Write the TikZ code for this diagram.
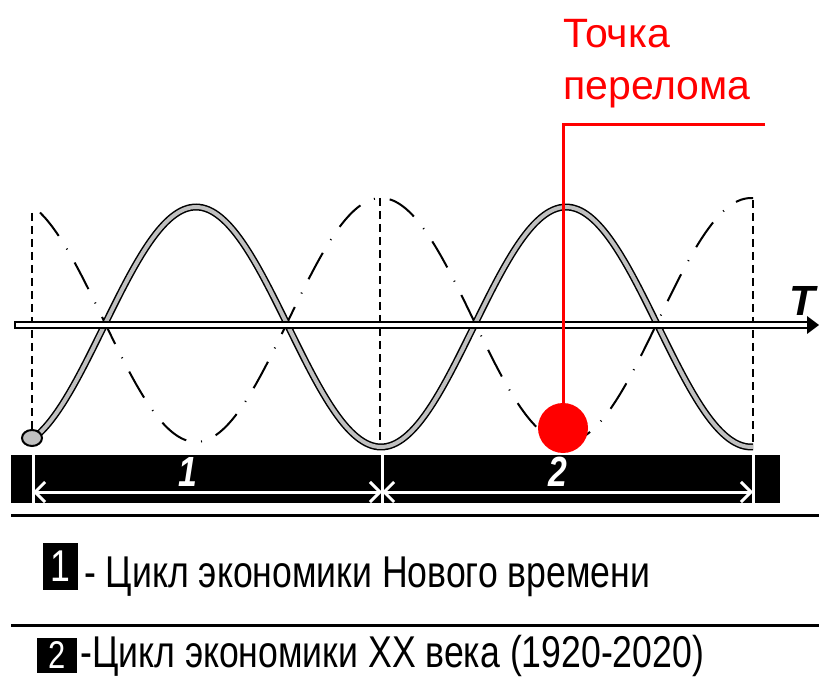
\documentclass[tikz,border=0pt]{standalone}
\usepackage{fontspec}
\setmainfont{Liberation Sans}
\newfontfamily\narrowfont[FakeStretch=0.8]{Liberation Sans}
\usetikzlibrary{positioning, arrows.meta}
\definecolor{wavegray}{RGB}{192,192,192}

\begin{document}
\begin{tikzpicture}[
        x=0.3mm, y=-0.3mm,
        wave/.style={line width=2.1mm, black},
        wavefill/.style={line width=1.2mm, wavegray},
        ghost/.style={line width=0.6mm, dash pattern=on 9mm off 4.5mm on 0.3mm off 4.5mm},
        guide/.style={line width=0.6mm, dash pattern=on 2.4mm off 1.5mm},
        span/.style={white, line width=0.9mm, {Straight Barb[length=3mm, width=6mm, line width=0.9mm]}-{Straight Barb[length=3mm, width=6mm, line width=0.9mm]}},
        barnum/.style={text=white, inner sep=0pt, font=\narrowfont\bfseries\itshape\fontsize{36}{36}\selectfont},
        redlabel/.style={text=red, inner sep=0pt, anchor=base west, font=\fontsize{35}{35}\selectfont},
        keybox/.style={fill=black, text=white, inner sep=0pt, font=\narrowfont\fontsize{38}{38}\selectfont},
        legend/.style={inner sep=0pt, anchor=base west, font=\narrowfont\fontsize{38}{38}\selectfont}
    ]
        \useasboundingbox (0,0) rectangle (819,679);

        % Guides and second wave
        \draw[guide] (32,213) -- (32,430);
        \draw[guide] (380,198) -- (380,447);
        \draw[guide] (753,200) -- (753,447);
        \draw[ghost] plot[domain=40:753, samples=120, smooth] (\x, {320-122*cos(0.97297*(\x-381))});

        % Main wave
        \draw[wave] plot[domain=33:753, samples=120, smooth] (\x, {327+120*cos(0.97297*(\x-381))});
        \draw[wavefill] plot[domain=33:753, samples=120, smooth] (\x, {327+120*cos(0.97297*(\x-381))});
        \draw[line width=0.6mm, fill=wavegray] (32,438) ellipse [x radius=10, y radius=8];

        % Time axis
        \draw[line width=0.6mm, fill=white] (15,322) rectangle (810,328);
        \fill (807,316) -- (819,325) -- (807,334) -- cycle;
        \node[inner sep=0pt, font=\bfseries\itshape\fontsize{36}{36}\selectfont] (tlabel) at (802,301) {T};

        % Period bar
        \fill (11,455) rectangle (780,503);
        \foreach \x in {33,382,753}
            \draw[white, line width=0.9mm] (\x,455) -- (\x,503);
        \coordinate (m0) at (33,492);
        \coordinate (m1) at (382,492);
        \coordinate (m2) at (753,492);
        \draw[span] (m0) -- (m1);
        \draw[span] (m1) -- (m2);
        \node[barnum] (n1) at (188,472) {1};
        \node[barnum] (n2) at (558,472) {2};

        % Turning point
        \node[circle, fill=red, minimum size=15mm, inner sep=0pt] (ball) at (563,428) {};
        \node[redlabel] (turn) at (563,48) {Точка};
        \node[redlabel] (turnb) at (563,100) {перелома};
        \coordinate (lead) at (765,125);
        \draw[red, line width=0.9mm] (lead) -- (lead -| ball) -- (ball);

        % Legend
        \draw[line width=0.9mm] (11,515) -- (819,515);
        \draw[line width=0.9mm] (11,625) -- (819,625);
        \node[keybox, minimum width=10.5mm, minimum height=14.1mm] (key1) at (60.5,566.5) {1};
        \node[legend] (leg1) at (84,587) {- Цикл экономики Нового времени};
        \node[keybox, minimum width=12mm, minimum height=10.5mm, font=\narrowfont\fontsize{33}{33}\selectfont] (key2) at (57,655) {2};
        \node[legend] (leg2) at (80,667) {-Цикл экономики XX века (1920-2020)};
    \end{tikzpicture}
\end{document}
